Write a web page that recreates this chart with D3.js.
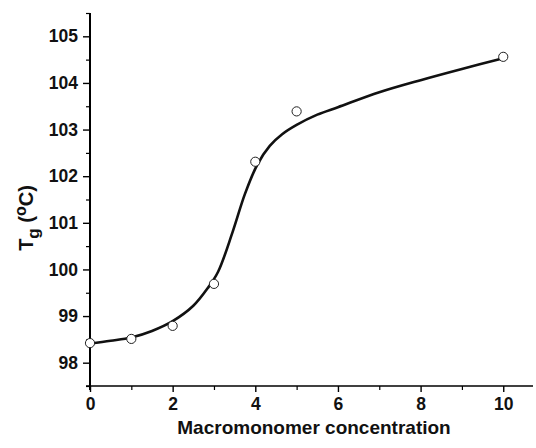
<!DOCTYPE html>
<html>
<head>
<meta charset="utf-8">
<script src="https://cdn.jsdelivr.net/npm/d3@7"></script>
<style>
  body { margin: 0; background: #fff; }
  svg text { font-family: "Liberation Sans", Arial, sans-serif; font-weight: bold; fill: #111; }
</style>
</head>
<body>
<div id="chart"></div>
<script>
// measured points
var concX = [0, 1, 2, 3, 4, 5, 10];
var tgY = [98.42, 98.51, 98.79, 99.69, 102.31, 103.39, 104.56];

// fitted curve
var curveX = [0, 0.5, 1, 1.5, 2, 2.5, 2.85, 3.1, 3.45, 3.75, 4.05, 4.35, 4.65, 5.0, 5.5, 6.0, 7.0, 8.0, 9.0, 10];
var curveY = [98.41, 98.47, 98.54, 98.68, 98.89, 99.22, 99.6, 99.95, 100.8, 101.62, 102.25, 102.65, 102.9, 103.1, 103.32, 103.48, 103.8, 104.06, 104.3, 104.53];

var xTicks = [0, 2, 4, 6, 8, 10];
var xMinor = [1, 3, 5, 7, 9];
var yTicks = [98, 99, 100, 101, 102, 103, 104, 105];
var yMinor = [97.5, 98.5, 99.5, 100.5, 101.5, 102.5, 103.5, 104.5, 105.5];

var width = 536, height = 448;

var svg = d3.select("#chart").append("svg")
    .attr("width", width)
    .attr("height", height);

var x = d3.scaleLinear().domain([0, 10.72]).range([90, 533]);
var y = d3.scaleLinear().domain([97.5, 105.5]).range([386, 13]);

// x axis
var xAxis = svg.append("g")
    .attr("transform", "translate(0," + y(97.5) + ")")
    .call(d3.axisBottom(x).tickValues(xTicks).tickSize(6).tickPadding(6).tickFormat(d3.format("d")));
xAxis.select(".domain").attr("d", "M" + (x(0) - 4) + ",0H" + x(10.72)).attr("stroke-width", 1.6);
xAxis.selectAll(".tick line").attr("stroke-width", 1.4);
xAxis.selectAll(".tick text").style("font-size", "17.5px").attr("dy", "0.71em");

svg.append("g")
    .attr("transform", "translate(0," + y(97.5) + ")")
    .call(d3.axisBottom(x).tickValues(xMinor).tickSize(4).tickFormat(""))
    .call(function (g) { g.select(".domain").remove(); })
    .selectAll(".tick line").attr("stroke-width", 1.2);

// y axis
var yAxis = svg.append("g")
    .attr("transform", "translate(" + x(0) + ",0)")
    .call(d3.axisLeft(y).tickValues(yTicks).tickSize(7).tickPadding(5).tickFormat(d3.format("d")));
yAxis.select(".domain").attr("d", "M0," + (y(97.5) + 4) + "V" + y(105.5)).attr("stroke-width", 2);
yAxis.selectAll(".tick line").attr("stroke-width", 1.4);
yAxis.selectAll(".tick text").style("font-size", "17.5px");

svg.append("g")
    .attr("transform", "translate(" + x(0) + ",0)")
    .call(d3.axisLeft(y).tickValues(yMinor).tickSize(4).tickFormat(""))
    .call(function (g) { g.select(".domain").remove(); })
    .selectAll(".tick line").attr("stroke-width", 1.2);

// fitted curve
var curveData = curveX.map(function (d, i) { return { x: d, y: curveY[i] }; });
var line = d3.line()
    .x(function (d) { return x(d.x); })
    .y(function (d) { return y(d.y); })
    .curve(d3.curveCatmullRom.alpha(0.5));

svg.append("path")
    .datum(curveData)
    .attr("d", line)
    .attr("fill", "none")
    .attr("stroke", "#111")
    .attr("stroke-width", 2.6);

// points
var pts = concX.map(function (d, i) { return { x: d, y: tgY[i] }; });
svg.selectAll("circle.pt")
    .data(pts)
    .enter().append("circle")
    .attr("class", "pt")
    .attr("cx", function (d) { return x(d.x); })
    .attr("cy", function (d) { return y(d.y); })
    .attr("r", 4.6)
    .attr("fill", "#fff")
    .attr("stroke", "#222")
    .attr("stroke-width", 1);

// titles
svg.append("text")
    .attr("x", 314)
    .attr("y", 434)
    .attr("text-anchor", "middle")
    .style("font-size", "19px")
    .text("Macromonomer concentration");

var yt = svg.append("text")
    .attr("transform", "translate(33,218) rotate(-90)")
    .attr("text-anchor", "middle")
    .style("font-size", "20px");
yt.append("tspan").text("T");
yt.append("tspan").attr("dy", 6).style("font-size", "17px").text("g");
yt.append("tspan").attr("dy", -6).text(" (");
yt.append("tspan").attr("dy", -7).style("font-size", "16px").text("o");
yt.append("tspan").attr("dy", 7).text("C)");
</script>
</body>
</html>
